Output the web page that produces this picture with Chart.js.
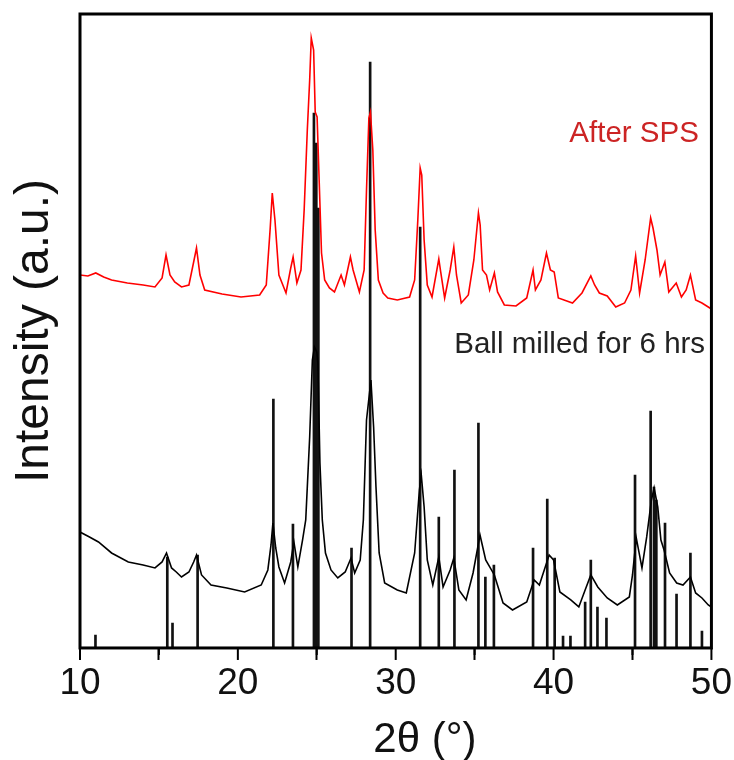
<!DOCTYPE html>
<html>
<head>
<meta charset="utf-8">
<script src="https://cdn.jsdelivr.net/npm/chart.js@4/dist/chart.umd.min.js"></script>
<style>
  html, body { margin: 0; padding: 0; background: #fff; }
  #wrap { width: 734px; height: 760px; }
</style>
</head>
<body>
<div id="wrap"><canvas id="xrd"></canvas></div>
<script>
// After SPS (red trace)
const spsTheta = [10.0, 10.5, 11.0, 11.5, 12.0, 13.0, 14.0, 14.75, 15.2, 15.45, 15.7, 16.0, 16.43, 16.9, 17.2, 17.38, 17.6, 17.9, 19.0, 20.2,
  21.38, 21.8, 22.05, 22.18, 22.35, 22.6, 23.05, 23.35, 23.5, 23.74, 24.0, 24.2, 24.4, 24.55, 24.65, 24.8, 24.9, 25.02, 25.15, 25.3,
  25.5, 25.8, 26.12, 26.54, 26.75, 27.13, 27.3, 27.7, 28.0, 28.15, 28.3, 28.4, 28.55, 28.7, 28.9, 29.2, 29.5, 30.1, 30.88, 31.2,
  31.4, 31.55, 31.65, 31.8, 32.0, 32.3, 32.73, 32.85, 33.1, 33.45, 33.68, 33.85, 34.15, 34.6, 34.95, 35.24, 35.35, 35.5, 35.75, 35.95,
  36.25, 36.45, 36.88, 37.62, 38.3, 38.7, 38.85, 39.2, 39.55, 39.8, 40.04, 40.3, 41.2, 41.8, 42.36, 42.6, 42.9, 43.4, 43.94, 44.5,
  44.9, 45.2, 45.45, 45.8, 46.15, 46.3, 46.55, 46.75, 47.05, 47.3, 47.77, 48.1, 48.4, 48.67, 49.0, 49.4, 49.8, 50.0];
const spsIntensity = [373, 372, 375, 371, 368, 365, 363, 361, 370, 393, 373, 366, 361, 363, 386, 400, 373, 358, 354, 351,
  353, 363, 420, 455, 428, 373, 355, 380, 391, 365, 378, 438, 518, 568, 610, 598, 536, 531, 468, 395,
  368, 360, 356, 373, 363, 391, 378, 356, 378, 458, 530, 536, 498, 418, 368, 355, 350, 348, 351, 368,
  428, 480, 473, 408, 363, 351, 389, 376, 350, 378, 401, 373, 345, 353, 388, 435, 423, 378, 373, 358,
  375, 356, 343, 342, 350, 378, 358, 368, 395, 378, 376, 350, 345, 355, 372, 363, 355, 352, 341, 345,
  358, 392, 355, 388, 430, 420, 398, 373, 386, 356, 365, 351, 358, 373, 348, 345, 341, 339];

// Ball milled for 6 hrs (black trace)
const milledTheta = [10.0, 10.6, 11.17, 12.0, 13.06, 14.0, 14.75, 15.2, 15.48, 15.8, 16.1, 16.43, 16.9, 17.2, 17.38, 17.7, 18.3, 19.3, 20.43, 21.48,
  21.9, 22.1, 22.22, 22.4, 22.6, 22.96, 23.35, 23.55, 23.8, 24.1, 24.3, 24.55, 24.72, 24.85, 25.0, 25.07, 25.2, 25.35, 25.55, 25.9,
  26.33, 26.8, 27.17, 27.4, 27.75, 27.95, 28.15, 28.43, 28.6, 28.75, 28.95, 29.3, 30.1, 30.67, 31.2, 31.5, 31.62, 31.8, 32.0, 32.35,
  32.73, 33.0, 33.45, 33.68, 34.0, 34.46, 34.9, 35.34, 35.7, 36.25, 36.8, 37.4, 38.3, 38.77, 39.1, 39.72, 40.0, 40.4, 41.09, 41.6,
  42.0, 42.36, 42.8, 43.4, 44.04, 44.8, 45.0, 45.24, 45.6, 45.9, 46.2, 46.37, 46.6, 46.8, 47.0, 47.35, 47.8, 48.2, 48.67, 49.0,
  49.4, 49.8, 50.0];
const milledIntensity = [116, 111, 106, 95, 86, 83, 80, 86, 95, 80, 76, 71, 76, 86, 93, 73, 63, 60, 56, 63,
  78, 103, 125, 100, 81, 65, 86, 106, 81, 108, 128, 211, 288, 301, 296, 285, 185, 128, 95, 78,
  70, 76, 90, 75, 88, 128, 228, 268, 221, 161, 95, 65, 58, 55, 95, 158, 173, 141, 88, 63,
  91, 61, 78, 90, 58, 48, 75, 113, 88, 73, 45, 38, 46, 68, 63, 93, 88, 56, 48, 41,
  58, 73, 61, 50, 43, 51, 73, 110, 80, 111, 148, 160, 141, 108, 98, 75, 65, 63, 71, 55,
  50, 43, 41];

// reference pattern (stick lines)
const refTheta = [10.98, 15.53, 15.86, 17.45, 22.25, 23.49, 24.82, 24.97, 25.1, 27.2, 28.38, 31.55, 32.73, 33.72, 35.24, 35.68, 36.22,
  38.7, 39.6, 40.07, 40.6, 41.07, 42.0, 42.36, 42.78, 43.35, 45.16, 46.15, 46.36, 46.51, 47.06, 47.79, 48.67, 49.4];
const refIntensity = [13, 91, 25, 93, 249, 124, 535, 505, 440, 100, 586, 421, 131, 178, 225, 71, 83,
  100, 149, 90, 12, 12, 46, 88, 41, 30, 173, 237, 161, 148, 125, 54, 95, 17];

const xTicks = [10, 20, 30, 40, 50];
const xMinorTicks = [15, 25, 35, 45];

const FONT = "'Liberation Sans', Arial, sans-serif";

const toPoints = (xs, ys) => xs.map((x, i) => ({ x: x, y: ys[i] }));

const seriesLabels = [
  { text: 'After SPS', x: 41.0, y: 506, align: 'left', color: '#cc2424' },
  { text: 'Ball milled for 6 hrs', x: 49.6, y: 295, align: 'right', color: '#222' }
];

// frame, tick marks and curve labels
const decorations = {
  id: 'decorations',
  afterDatasetsDraw(chart) {
    const { ctx, chartArea, scales } = chart;
    ctx.save();
    ctx.strokeStyle = '#000';
    ctx.lineWidth = 2;
    const tick = (t, len) => {
      const px = scales.x.getPixelForValue(t);
      ctx.beginPath();
      ctx.moveTo(px, chartArea.bottom);
      ctx.lineTo(px, chartArea.bottom + len);
      ctx.stroke();
    };
    xTicks.forEach(t => tick(t, 12));
    xMinorTicks.forEach(t => tick(t, 7));
    ctx.lineWidth = 3;
    ctx.strokeRect(chartArea.left, chartArea.top, chartArea.right - chartArea.left, chartArea.bottom - chartArea.top);

    ctx.font = '29.5px ' + FONT;
    ctx.textBaseline = 'alphabetic';
    seriesLabels.forEach(l => {
      ctx.fillStyle = l.color;
      ctx.textAlign = l.align;
      ctx.fillText(l.text, scales.x.getPixelForValue(l.x), scales.y.getPixelForValue(l.y));
    });
    ctx.restore();
  }
};

new Chart(document.getElementById('xrd'), {
  type: 'line',
  data: {
    datasets: [
      {
        label: 'After SPS',
        data: toPoints(spsTheta, spsIntensity),
        borderColor: '#ff0000',
        borderWidth: 1.6,
        pointRadius: 0,
        tension: 0,
        order: 0
      },
      {
        label: 'Ball milled for 6 hrs',
        data: toPoints(milledTheta, milledIntensity),
        borderColor: '#000',
        borderWidth: 1.6,
        pointRadius: 0,
        tension: 0,
        order: 1
      },
      {
        type: 'bar',
        label: 'Reference',
        data: toPoints(refTheta, refIntensity),
        backgroundColor: '#111',
        barThickness: 2,
        order: 2
      }
    ]
  },
  options: {
    responsive: true,
    maintainAspectRatio: false,
    animation: false,
    layout: { padding: { top: 14, right: 22, left: 2, bottom: 0 } },
    plugins: {
      legend: { display: false },
      tooltip: { enabled: false }
    },
    scales: {
      x: {
        type: 'linear',
        min: 10,
        max: 50,
        offset: false,
        afterBuildTicks: axis => { axis.ticks = xTicks.map(v => ({ value: v })); },
        border: { display: false },
        grid: {
          drawOnChartArea: false,
          drawTicks: true,
          tickLength: 12,
          tickWidth: 2,
          tickColor: '#000'
        },
        ticks: {
          color: '#111',
          padding: 2,
          maxRotation: 0,
          font: { family: FONT, size: 37, lineHeight: 1.19 }
        },
        title: {
          display: true,
          text: '     2θ (°)',
          color: '#111',
          padding: { top: 11, bottom: -1 },
          font: { family: FONT, size: 42, lineHeight: 1 }
        }
      },
      y: {
        min: 0,
        max: 634,
        border: { display: false },
        grid: { display: false },
        ticks: { display: false },
        title: {
          display: true,
          text: 'Intensity (a.u.)',
          color: '#111',
          padding: { top: 9, bottom: 13 },
          font: { family: FONT, size: 48, lineHeight: 1 }
        }
      }
    }
  },
  plugins: [decorations]
});
</script>
</body>
</html>
